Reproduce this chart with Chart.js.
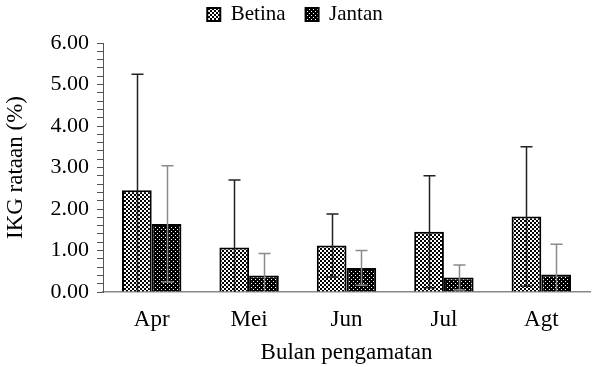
<!DOCTYPE html>
<html>
<head>
<meta charset="utf-8">
<script src="https://cdn.jsdelivr.net/npm/chart.js@4"></script>
<style>
  html, body { margin: 0; padding: 0; background: #fff; }
  #wrap { width: 598px; height: 367px; }
</style>
</head>
<body>
<div id="wrap"><canvas id="chart" width="598" height="367"></canvas></div>
<script>
const months = ["Apr", "Mei", "Jun", "Jul", "Agt"];
const betina = [2.45, 1.07, 1.12, 1.45, 1.82];
const betinaErr = [2.80, 1.63, 0.76, 1.35, 1.68];
const jantan = [1.64, 0.40, 0.58, 0.35, 0.42];
const jantanErr = [1.40, 0.53, 0.42, 0.30, 0.73];

const FONT = "'Liberation Serif', 'Times New Roman', serif";

// checkerboard for Betina
function checkPattern() {
    const c = document.createElement("canvas");
    c.width = 4; c.height = 4;
    const g = c.getContext("2d");
    g.fillStyle = "#fff"; g.fillRect(0, 0, 4, 4);
    g.fillStyle = "#000";
    g.fillRect(0, 0, 2, 2);
    g.fillRect(2, 2, 2, 2);
    return g.createPattern(c, "repeat");
}

// black with white dots for Jantan
function dotPattern() {
    const c = document.createElement("canvas");
    c.width = 4; c.height = 4;
    const g = c.getContext("2d");
    g.fillStyle = "#000"; g.fillRect(0, 0, 4, 4);
    g.fillStyle = "#fff";
    g.fillRect(1, 1, 1, 1);
    g.fillRect(3, 3, 1, 1);
    return g.createPattern(c, "repeat");
}

// error bars (± sd), clipped to plot area
const errorBars = {
    id: "errorBars",
    afterDatasetsDraw(chart) {
        const ctx = chart.ctx;
        const y = chart.scales.y;
        const area = chart.chartArea;
        ctx.save();
        ctx.beginPath();
        ctx.rect(area.left, area.top - 2, area.right - area.left, area.bottom - area.top + 2);
        ctx.clip();
        chart.data.datasets.forEach((ds, di) => {
            const meta = chart.getDatasetMeta(di);
            ctx.strokeStyle = ds.errColor;
            ctx.lineWidth = 1.5;
            meta.data.forEach((bar, i) => {
                const v = ds.data[i], e = ds.errors[i];
                const x = Math.round(bar.x) + 0.5;
                const yTop = y.getPixelForValue(v + e);
                const yBot = y.getPixelForValue(v - e);
                ctx.beginPath();
                ctx.moveTo(x, yTop); ctx.lineTo(x, yBot);
                ctx.moveTo(x - 6, yTop); ctx.lineTo(x + 6, yTop);
                ctx.moveTo(x - 6, yBot); ctx.lineTo(x + 6, yBot);
                ctx.stroke();
            });
        });
        ctx.restore();
    }
};

// legend: wider gap between items, but keep it close to the top edge
const legendSpacing = {
    id: "legendSpacing",
    beforeInit(chart) {
        const fit = chart.legend.fit;
        chart.legend.fit = function () {
            fit.bind(this)();
            this.height = 43;
        };
    },
    afterLayout(chart) {
        chart.legend.top -= 16;
    }
};

new Chart(document.getElementById("chart"), {
    type: "bar",
    data: {
        labels: months,
        datasets: [
            {
                label: "Betina",
                data: betina,
                errors: betinaErr,
                errColor: "#222",
                backgroundColor: checkPattern(),
                borderColor: "#000",
                borderWidth: 2
            },
            {
                label: "Jantan",
                data: jantan,
                errors: jantanErr,
                errColor: "#8a8a8a",
                backgroundColor: dotPattern(),
                borderColor: "#000",
                borderWidth: 2
            }
        ]
    },
    plugins: [errorBars, legendSpacing],
    options: {
        responsive: false,
        animation: false,
        layout: { padding: { left: 0, right: 8, top: 0, bottom: 0 } },
        categoryPercentage: 0.61,
        barPercentage: 1.0,
        plugins: {
            legend: {
                position: "top",
                labels: {
                    color: "#000",
                    font: { family: FONT, size: 21 },
                    boxWidth: 13,
                    boxHeight: 13,
                    padding: 20
                }
            },
            tooltip: { enabled: false }
        },
        scales: {
            x: {
                afterFit(s) { s.height = 75; },
                grid: { display: false, drawTicks: false },
                border: { color: "#888", width: 1.5 },
                ticks: { color: "#000", font: { family: FONT, size: 23 }, padding: 14 },
                title: {
                    display: true,
                    text: "Bulan pengamatan",
                    color: "#000",
                    font: { family: FONT, size: 23 },
                    padding: { top: 0, bottom: 0 }
                }
            },
            y: {
                min: 0,
                max: 6,
                afterFit(s) { s.width = 103; },
                grid: { drawOnChartArea: false, drawTicks: true, tickLength: 6, color: "#555", lineWidth: 1 },
                border: { color: "#555", width: 1 },
                ticks: {
                    stepSize: 0.2,
                    autoSkip: false,
                    color: "#000",
                    font: { family: FONT, size: 22 },
                    padding: 8,
                    callback(v) {
                        return Math.abs(v - Math.round(v)) < 1e-6 ? Math.round(v).toFixed(2) : "";
                    }
                },
                title: {
                    display: true,
                    text: "IKG rataan (%)",
                    color: "#000",
                    font: { family: FONT, size: 23 },
                    padding: { top: 2, bottom: 4 }
                }
            }
        }
    }
});
</script>
</body>
</html>
